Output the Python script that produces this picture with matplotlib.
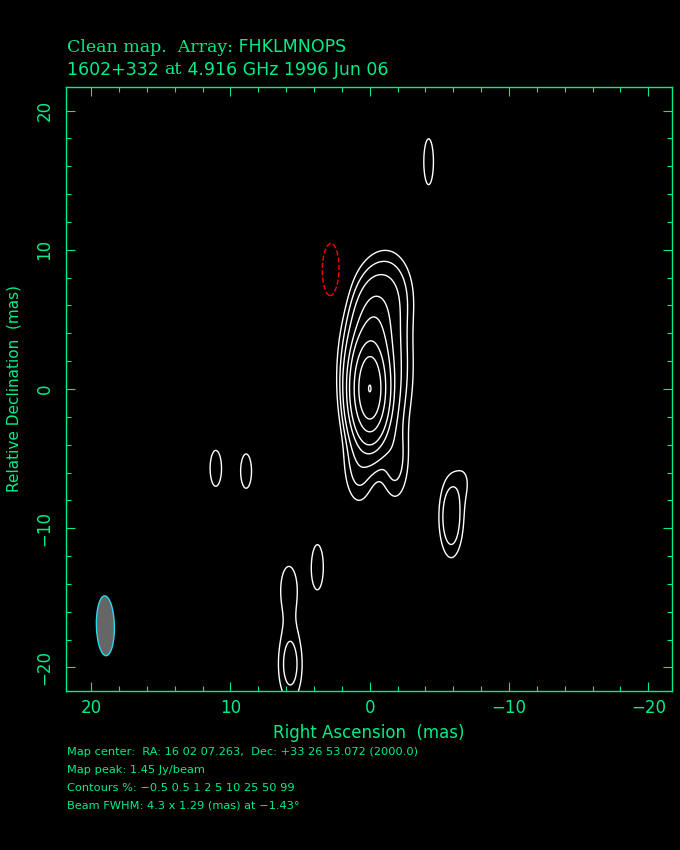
import numpy as np
import matplotlib
matplotlib.use('Agg')
import matplotlib.pyplot as plt
from matplotlib.patches import Ellipse

# source model: offsets (mas), peak (Jy/beam), FWHM (mas), PA (deg)
comp_ra = [0.0, -0.45, -0.3, -1.4, 0.8, -1.85, -5.85, -6.8, 5.7, 5.8, 11.05, 8.87, -4.23, 3.75, 2.78]
comp_dec = [0.0, 1.5, 4.3, 6.8, -5.5, -5.2, -9.2, -6.6, -19.8, -14.4, -5.7, -5.9, 16.33, -12.8, 8.52]
comp_peak = [1.38, 0.075, 0.085, 0.023, 0.017, 0.017, 0.026, 0.0065, 0.020, 0.0109,
             0.0093, 0.0091, 0.0109, 0.0107, -0.0128]
comp_maj = [4.3, 7.5, 4.3, 4.3, 4.3, 4.3, 4.3, 3.0, 4.3, 4.3, 4.3, 4.3, 4.3, 4.3, 4.3]
comp_min = [1.55, 2.9, 1.8, 2.4, 1.6, 1.47, 1.3, 1.3, 1.4, 1.5, 1.35, 1.35, 0.9, 1.12, 1.38]
comp_pa = [0, 0, 0, 0, 0, 0, 0, 0, 0, 0, 0, 0, 0, 0, 0]

map_peak = 1.45  # Jy/beam
contour_pct = [-0.5, 0.5, 1, 2, 5, 10, 25, 50, 99]
beam_maj, beam_min, beam_pa = 4.3, 1.29, -1.43

title1_serif = "Clean map.  Array:"
title1_sans = " FHKLMNOPS"
source, freq_txt, date_txt = "1602+332", "4.916 GHz", "1996 Jun 06"
info_lines = [
    "Map center:  RA: 16 02 07.263,  Dec: +33 26 53.072 (2000.0)",
    "Map peak: 1.45 Jy/beam",
    "Contours %: " + " ".join(str(c) for c in contour_pct).replace("-", "\u2212"),
    "Beam FWHM: 4.3 x 1.29 (mas) at \u22121.43\u00b0",
]

GREEN = '#00EE88'
xlim = (21.8, -21.7)
ylim = (-21.7, 21.7)

# build the model image
ra = np.linspace(xlim[0], xlim[1], 700)
dec = np.linspace(ylim[0], ylim[1], 700)
X, Y = np.meshgrid(ra, dec)
img = np.zeros_like(X)
for x0, y0, s, a, b, pa in zip(comp_ra, comp_dec, comp_peak, comp_maj, comp_min, comp_pa):
    t = np.radians(pa)
    dx, dy = X - x0, Y - y0
    u = dx * np.sin(t) + dy * np.cos(t)
    v = dx * np.cos(t) - dy * np.sin(t)
    img += s * np.exp(-4 * np.log(2) * ((u / a) ** 2 + (v / b) ** 2))

levels = np.array(contour_pct) * map_peak / 100.0

fig = plt.figure(figsize=(6.8, 8.5), dpi=100, facecolor='black')
ax = fig.add_axes([66 / 680, 159 / 850, 606 / 680, 604 / 850], facecolor='black')

neg = levels[levels < 0]
pos = levels[levels > 0]
ax.contour(X, Y, img, levels=neg, colors='red', linewidths=1.0, linestyles='--')
ax.contour(X, Y, img, levels=pos, colors='white', linewidths=1.0, linestyles='-')

# restoring beam in the lower-left corner
bx = xlim[0] - 0.065 * (xlim[0] - xlim[1])
by = ylim[0] + 0.108 * (ylim[1] - ylim[0])
ax.add_patch(Ellipse((bx, by), width=beam_min, height=beam_maj, angle=beam_pa,
                     facecolor='#666666', edgecolor='#22DDEE', linewidth=1.0))

ax.set_xlim(xlim)
ax.set_ylim(ylim)
ax.set_xticks([20, 10, 0, -10, -20])
ax.set_yticks([20, 10, 0, -10, -20])
ax.set_xticks(np.arange(-20, 21, 2), minor=True)
ax.set_yticks(np.arange(-20, 21, 2), minor=True)
for sp in ax.spines.values():
    sp.set_color(GREEN)
    sp.set_linewidth(1.0)
ax.tick_params(which='both', direction='in', top=True, right=True, colors=GREEN,
               width=0.8, labelsize=12, labelcolor=GREEN)
ax.tick_params(which='major', length=6.5, pad=6)
ax.tick_params(which='minor', length=3.6)
ax.tick_params(axis='y', pad=9)
plt.setp(ax.get_yticklabels(), rotation=90, va='center')

ax.set_xlabel("Right Ascension  (mas)", color=GREEN, fontsize=12, labelpad=5)
ax.set_ylabel("Relative Declination  (mas)", color=GREEN, fontsize=11, labelpad=10)

# title, mixing a serif and a sans face like the original
renderer = fig.canvas.get_renderer()


def write_segments(segments, x, y, size):
    for txt, fam in segments:
        t = fig.text(x, y, txt, color=GREEN, fontsize=size, family=fam,
                     va='center', ha='left', transform=None)
        bb = t.get_window_extent(renderer=renderer)
        x = bb.x1


write_segments([(title1_serif, 'DejaVu Serif'), (title1_sans, 'DejaVu Sans')],
               67, 850 - 47, 12.5)
write_segments([(source + " ", 'DejaVu Sans'), ("at", 'DejaVu Serif'),
                (" " + freq_txt + " " + date_txt, 'DejaVu Sans')],
               67, 850 - 70, 12.5)

for i, line in enumerate(info_lines):
    fig.text(67 / 680, 1 - (752 + i * 18) / 850, line, color=GREEN, fontsize=8.2,
             va='center', ha='left')

fig.savefig('out.png', dpi=100, facecolor='black')
